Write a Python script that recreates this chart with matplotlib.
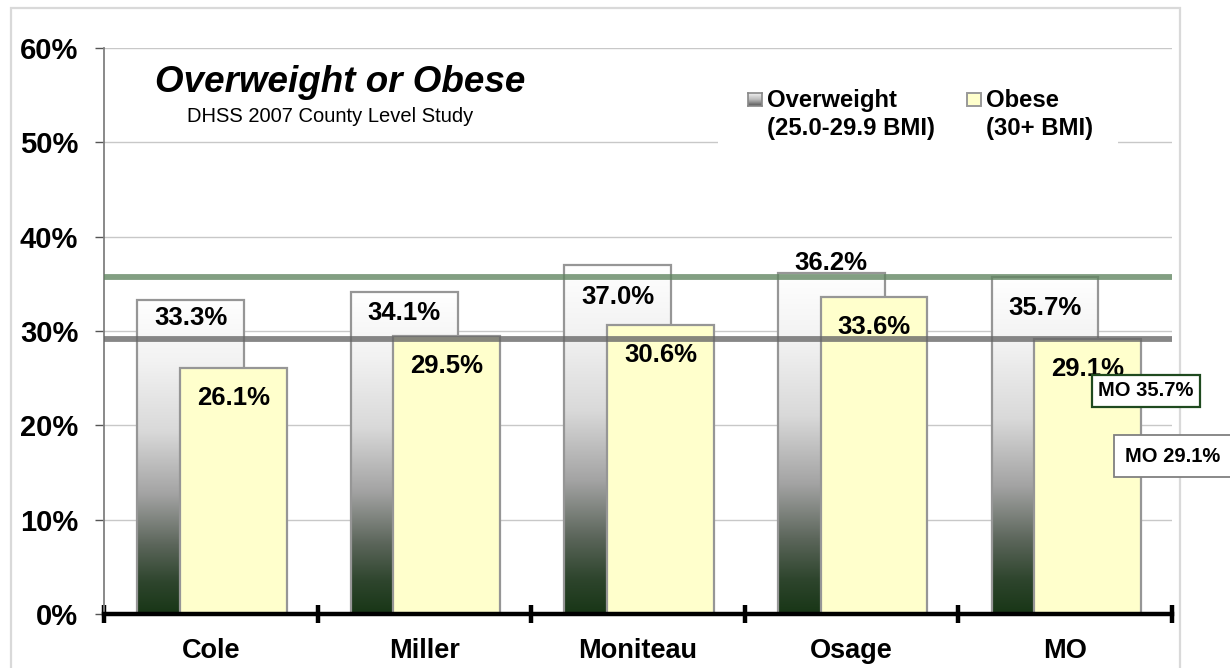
import numpy as np
import matplotlib
matplotlib.use("Agg")
import matplotlib.pyplot as plt
from matplotlib.colors import LinearSegmentedColormap
from matplotlib.patches import Rectangle

# ---- data ----
categories = ["Cole", "Miller", "Moniteau", "Osage", "MO"]
overweight = [33.3, 34.1, 37.0, 36.2, 35.7]
obese = [26.1, 29.5, 30.6, 33.6, 29.1]
mo_overweight = 35.7
mo_obese = 29.1
yticks = [0, 10, 20, 30, 40, 50, 60]

# label vertical offsets (points, relative to bar top)
ow_label_off = [-13, -15, -23, 7, -22]
ob_label_off = [-21.5, -21.5, -21.5, -21.5, -21]

plt.rcParams['font.family'] = ['Liberation Sans', 'DejaVu Sans']

W, H = 1230, 668
fig = plt.figure(figsize=(W / 100, H / 100), dpi=100)
fig.patch.set_facecolor('white')

# outer chart border
fig.patches.append(Rectangle((11 / W, -0.05), (1180 - 11) / W, 1.05 - 8 / H,
                             transform=fig.transFigure, fill=False,
                             edgecolor='#d9d9d9', linewidth=1.6, zorder=0))

ax = fig.add_axes([104 / W, 1 - 614 / H, (1172 - 104) / W, (614 - 48) / H])
ax.set_facecolor('none')
ax.set_xlim(-0.5, 4.5)
ax.set_ylim(0, 60)

x = np.arange(len(categories))
bw = 0.5
ow_x = x - 0.095
ob_x = x + 0.105

grad_cmap = LinearSegmentedColormap.from_list(
    'ow', [(0.0, '#183616'), (0.1, '#2e452d'), (0.22, '#5c665b'),
           (0.38, '#a3a3a3'), (0.58, '#d9d9d9'), (0.8, '#f2f2f2'),
           (1.0, '#ffffff')])
grad = np.linspace(0, 1, 256).reshape(-1, 1)

for xi, v in zip(ow_x, overweight):
    ax.imshow(grad, cmap=grad_cmap, origin='lower', aspect='auto',
              extent=(xi - bw / 2, xi + bw / 2, 0, v), zorder=2,
              interpolation='bilinear')
ax.bar(ow_x, overweight, width=bw, facecolor='none', edgecolor='#969696',
       linewidth=1.6, zorder=2.5)
ax.bar(ob_x, obese, width=bw, color='#ffffcc', edgecolor='#969696',
       linewidth=1.6, zorder=3)

ax.set_xlim(-0.5, 4.5)
ax.set_ylim(0, 60)

# reference lines
ax.axhline(mo_overweight, color='#5f845f', alpha=0.78, linewidth=4.2, zorder=4)
ax.axhline(mo_obese, color='#666666', alpha=0.78, linewidth=4.2, zorder=4)

# value labels
for xi, v, off in zip(ow_x, overweight, ow_label_off):
    ax.annotate(f"{v:.1f}%", (xi, v), xytext=(0, off), textcoords='offset points',
                ha='center', va='center', fontsize=18.5, fontweight='bold', zorder=6)
for xi, v, off in zip(ob_x, obese, ob_label_off):
    ax.annotate(f"{v:.1f}%", (xi, v), xytext=(0, off), textcoords='offset points',
                ha='center', va='center', fontsize=18.5, fontweight='bold', zorder=6)

# grid & axes
ax.set_yticks(yticks)
ax.set_yticklabels([f"{t}%" for t in yticks], fontsize=21, fontweight='bold')
ax.yaxis.grid(True, color='#c8c8c8', linewidth=1.0, zorder=0)
ax.set_axisbelow(True)
ax.tick_params(axis='y', direction='out', length=6.5, width=1, color='#555555', pad=12)

ax.set_xticks(x)
ax.set_xticklabels(categories, fontsize=19.5, fontweight='bold')
ax.set_xticks(np.arange(-0.5, 5.0, 1.0), minor=True)
ax.tick_params(axis='x', which='major', length=0, pad=17)
ax.tick_params(axis='x', which='minor', direction='inout', length=13, width=3.2, color='black')

for s in ['top', 'right']:
    ax.spines[s].set_visible(False)
ax.spines['left'].set_color('#808080')
ax.spines['left'].set_linewidth(1.3)
ax.spines['bottom'].set_color('black')
ax.spines['bottom'].set_linewidth(3.2)
ax.spines['bottom'].set_zorder(7)

# title
fig.text(340 / W, 1 - 92 / H, "Overweight or Obese", fontsize=26.5, fontweight='bold',
         fontstyle='italic', ha='center', va='baseline')
fig.text(330 / W, 1 - 122 / H, "DHSS 2007 County Level Study", fontsize=14.5,
         ha='center', va='baseline')

# legend (white backing box)
fig.patches.append(Rectangle((718 / W, 1 - 165 / H), (1118 - 718) / W, (165 - 62) / H,
                             transform=fig.transFigure, facecolor='white',
                             edgecolor='none', zorder=1))
leg_ax = fig.add_axes([748 / W, 1 - 106 / H, 14 / W, 13 / H], zorder=5)
leg_ax.imshow(np.linspace(0, 1, 64).reshape(-1, 1),
              cmap=LinearSegmentedColormap.from_list('lg', ['#555555', '#bbbbbb', '#f0f0f0']),
              origin='lower', aspect='auto', extent=(0, 1, 0, 1))
leg_ax.set_xticks([]); leg_ax.set_yticks([])
for sp in leg_ax.spines.values():
    sp.set_color('#888888'); sp.set_linewidth(1.2)
fig.patches.append(Rectangle((967 / W, 1 - 106 / H), 14 / W, 13 / H,
                             transform=fig.transFigure, facecolor='#ffffcc',
                             edgecolor='#999999', linewidth=1.4, zorder=3))
leg_fs = 17.2
fig.text(767 / W, 1 - 107 / H, "Overweight", fontsize=leg_fs, fontweight='bold',
         ha='left', va='baseline', zorder=4)
fig.text(767 / W, 1 - 135 / H, "(25.0-29.9 BMI)", fontsize=leg_fs, fontweight='bold',
         ha='left', va='baseline', zorder=4)
fig.text(986 / W, 1 - 107 / H, "Obese", fontsize=leg_fs, fontweight='bold',
         ha='left', va='baseline', zorder=4)
fig.text(986 / W, 1 - 135 / H, "(30+ BMI)", fontsize=leg_fs, fontweight='bold',
         ha='left', va='baseline', zorder=4)

# MO annotation boxes
fig.text(1146 / W, 1 - 391 / H, f"MO {mo_overweight:.1f}%", fontsize=14.5,
         fontweight='bold', ha='center', va='center', zorder=8,
         bbox=dict(boxstyle='square,pad=0.3', facecolor='white',
                   edgecolor='#1f4a1f', linewidth=1.6))
fig.text(1173 / W, 1 - 456 / H, f"MO {mo_obese:.1f}%", fontsize=14.5,
         fontweight='bold', ha='center', va='center', zorder=8,
         bbox=dict(boxstyle='square,pad=0.55', facecolor='white',
                   edgecolor='#808080', linewidth=1.3))

fig.savefig("out.png", dpi=100, facecolor='white')
